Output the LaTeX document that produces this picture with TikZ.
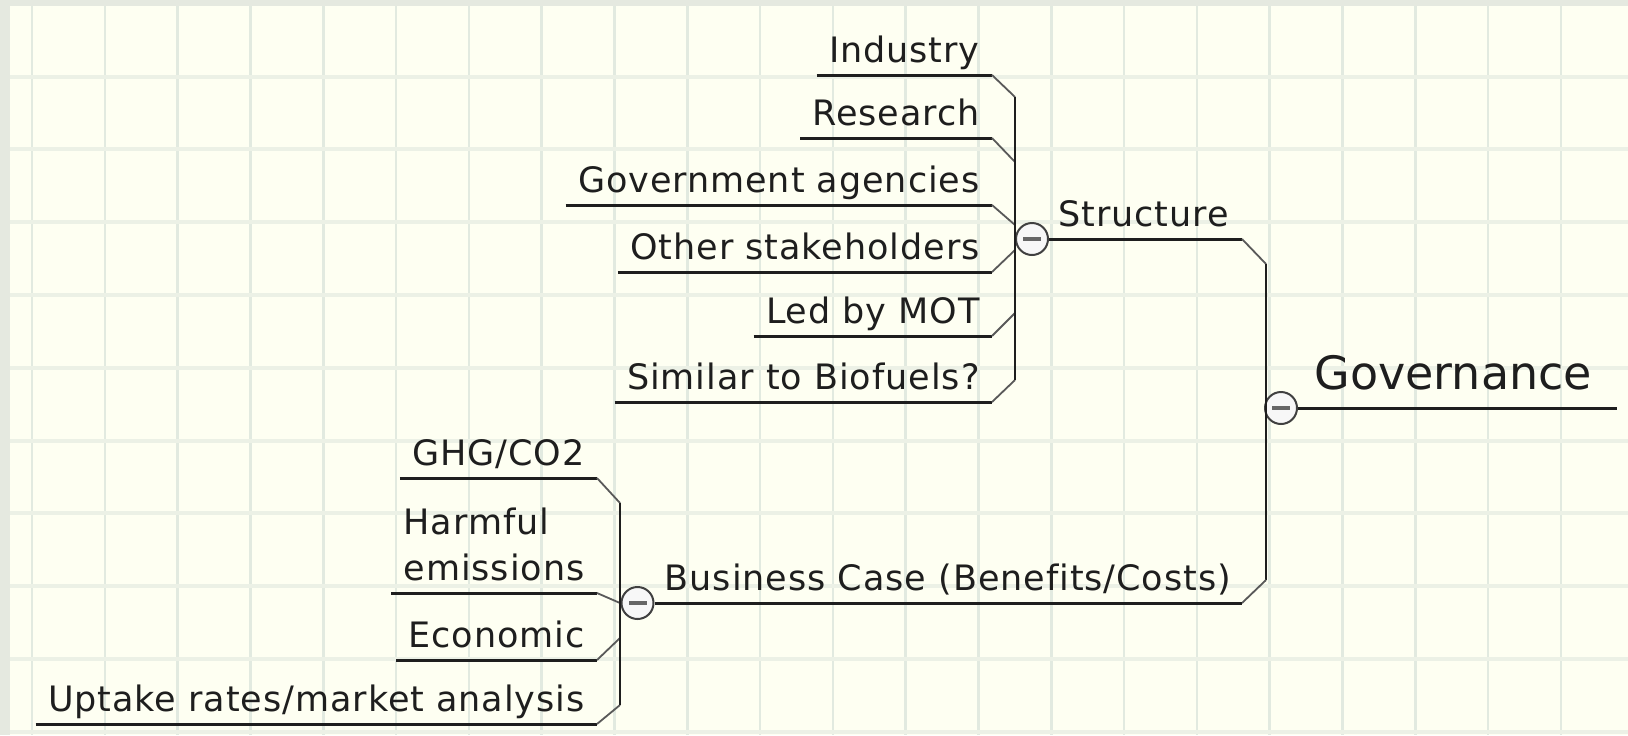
\documentclass[tikz,border=0pt]{standalone}
\usepackage{fontspec}
\setmainfont{DejaVu Sans}[Ligatures=NoCommon]
\definecolor{paper}{HTML}{FEFFF2}
\definecolor{gridline}{HTML}{E2EAE0}
\definecolor{frame}{HTML}{E5E9E0}
\definecolor{ink}{HTML}{1E1E1E}

\begin{document}
\begin{tikzpicture}[x=0.5pt, y=-0.5pt,
  leaf/.style={font=\fontsize{17.5}{23}\selectfont\addfontfeature{LetterSpace=2.7}, text=ink, inner xsep=6pt, inner ysep=6pt, text depth=0pt},
  root/.style={font=\fontsize{23}{28}\selectfont, text=ink, inner xsep=8pt, inner ysep=9pt, text depth=0pt},
  underline/.style={line width=1.5pt, ink},
  twig/.style={line width=0.9pt, black!65},
  spine/.style={line width=1.3pt, ink},
  fold/.style={circle, draw=black!75, fill=black!3, line width=1pt, minimum size=16pt, inner sep=0pt,
    path picture={\fill[black!60] ([xshift=-4.5pt,yshift=-0.9pt]path picture bounding box.center) rectangle ([xshift=4.5pt,yshift=0.9pt]path picture bounding box.center);}}]
  \useasboundingbox (0,0) rectangle (1628,735);
  % paper with grid
  \fill[paper] (0,0) rectangle (1628,735);
  \foreach \k in {0,...,21}
    \draw[gridline, line width=1.3pt] ({32+72.8*\k},0) -- ({32+72.8*\k},735);
  \foreach \k in {1,...,10}
    \draw[gridline!65!paper, line width=2pt] (0,{3.7+72.8*\k}) -- (1628,{3.7+72.8*\k});
  \fill[frame] (0,0) rectangle (1628,5.5);
  \fill[frame] (0,0) rectangle (9.5,735);

  % central topic
  \node[fold] (gfold) at (1281,408) {};
  \node[root, anchor=south west] (gov) at (gfold.east) {Governance};
  \coordinate (gend) at (1617,408);
  \draw[underline] (gfold.east) -- (gend);

  % main branches
  \coordinate (stop) at (1266,264);
  \coordinate (sbot) at (1266,580);
  \coordinate (send) at (1242,239);
  \coordinate (bend) at (1242,603);
  \node[fold] (sfold) at (1032,239) {};
  \node[leaf, anchor=south west, inner xsep=4.5pt] (structure) at (sfold.east) {Structure};
  \node[fold] (bfold) at (637.5,603) {};
  \node[leaf, anchor=south west, inner xsep=5pt] (business) at (bfold.east) {Business Case (Benefits/Costs)};
  \draw[underline] (sfold.east) -- (send);
  \draw[twig] (send) -- (stop);
  \draw[spine] (stop) -- (sbot);
  \draw[twig] (sbot) -- (bend);
  \draw[underline] (bfold.east) -- (bend);

  % structure leaves
  \foreach \name/\txt/\ly/\jy in {ind/Industry/75/97, res/Research/138/162,
      gva/Government agencies/205/225, oth/Other stakeholders/272/250,
      led/Led by MOT/336/313, sim/Similar to Biofuels?/402/380} {
    \node[leaf, anchor=south east] (\name) at (992,\ly) {\txt};
    \coordinate (\name j) at (1015,\jy);
    \draw[underline] (\name.south west) -- (\name.south east);
    \draw[twig] (\name.south east) -- (\name j);
  }
  \draw[spine] (indj) -- (simj);

  % business case leaves
  \node[leaf, anchor=south east] (ghg) at (597,478) {GHG/CO2};
  \node[leaf, anchor=south east, align=left] (harm) at (597,593) {Harmful\\emissions};
  \node[leaf, anchor=south east] (econ) at (597,660) {Economic};
  \node[leaf, anchor=south east] (uptake) at (597,724) {Uptake rates/market analysis};
  \coordinate (ghgj) at (620,503);
  \coordinate (harmj) at (620,603);
  \coordinate (econj) at (620,638);
  \coordinate (uptakej) at (620,705);
  \foreach \name in {ghg, harm, econ, uptake} {
    \draw[underline] (\name.south west) -- (\name.south east);
    \draw[twig] (\name.south east) -- (\name j);
  }
  \draw[spine] (ghgj) -- (uptakej);
\end{tikzpicture}
\end{document}
